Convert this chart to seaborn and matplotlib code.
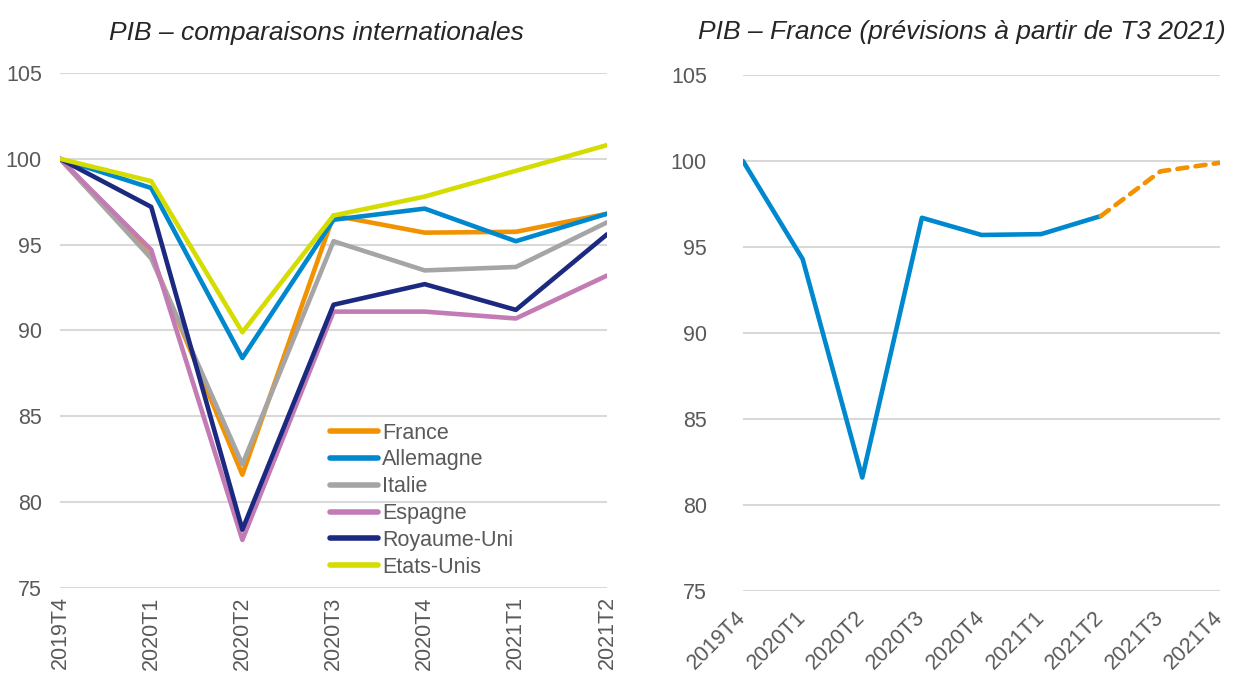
import pandas as pd
import matplotlib
matplotlib.use('Agg')
import matplotlib.pyplot as plt
import seaborn as sns

# trimestres
quarters = ['2019T4', '2020T1', '2020T2', '2020T3', '2020T4', '2021T1', '2021T2']
quarters_fr = quarters + ['2021T3', '2021T4']

# PIB, base 100 au T4 2019
france = [100, 94.3, 81.6, 96.7, 95.7, 95.75, 96.8]
allemagne = [100, 98.3, 88.4, 96.45, 97.1, 95.2, 96.8]
italie = [100, 94.2, 82.2, 95.2, 93.5, 93.7, 96.3]
espagne = [100, 94.7, 77.8, 91.1, 91.1, 90.7, 93.2]
royaume_uni = [100, 97.2, 78.4, 91.5, 92.7, 91.2, 95.6]
etats_unis = [100, 98.7, 89.9, 96.7, 97.8, 99.3, 100.8]

# France : prévisions à partir de T3 2021
france_prev = [96.8, 99.4, 99.9]

countries = ['France', 'Allemagne', 'Italie', 'Espagne', 'Royaume-Uni', 'Etats-Unis']
colors = ['#F39200', '#0088CE', '#A5A5A5', '#C27BB4', '#1B2A80', '#D4DC00']

sns.set_style('white')
plt.rcParams['font.family'] = ['Liberation Sans', 'DejaVu Sans']

GREY = '#595959'
GRID = '#D9D9D9'
LW = 3.3

rows = []
for name, vals in zip(countries, [france, allemagne, italie, espagne, royaume_uni, etats_unis]):
    for q, v in zip(quarters, vals):
        rows.append({'trimestre': q, 'pib': v, 'pays': name})
data = pd.DataFrame(rows)

fig = plt.figure(figsize=(12.33, 6.74), dpi=100)
ax1 = fig.add_axes([0.0487, 0.1276, 0.4436, 0.7641])
ax2 = fig.add_axes([0.6026, 0.1231, 0.3869, 0.7656])

# graphique de gauche
sns.lineplot(data=data, x='trimestre', y='pib', hue='pays', hue_order=countries,
             palette=colors, sort=False, linewidth=LW, ax=ax1)
ax1.set_xlim(0, len(quarters) - 1)
ax1.set_xticks(range(len(quarters)))
ax1.set_xticklabels(quarters, rotation=90, fontsize=15.5, color=GREY)
ax1.tick_params(axis='x', length=0, pad=6)
ax1.tick_params(axis='y', pad=13)
leg = ax1.legend(loc='lower left', bbox_to_anchor=(0.494, 0.02), frameon=False,
                 fontsize=15.5, handlelength=2.2, handletextpad=0.2,
                 labelspacing=0.27, borderaxespad=0, borderpad=0)
for t in leg.get_texts():
    t.set_color(GREY)
for h in leg.get_lines():
    h.set_linewidth(4)
ax1.set_title('PIB – comparaisons internationales', fontsize=19, style='italic',
              pad=24, x=0.468)

# graphique de droite
df_fr = pd.DataFrame({'trimestre': quarters, 'pib': france})
df_prev = pd.DataFrame({'trimestre': quarters_fr[6:], 'pib': france_prev})
ax2.set_xlim(-0.5, len(quarters_fr) - 0.5)
sns.lineplot(data=df_fr, x='trimestre', y='pib', color='#0088CE', linewidth=LW,
             sort=False, ax=ax2)
sns.lineplot(data=df_prev, x='trimestre', y='pib', color='#F39200', linewidth=LW,
             linestyle=(0, (2.2, 1.8)), dash_capstyle='round', sort=False, ax=ax2)
ax2.set_xticks(range(len(quarters_fr)))
ax2.set_xticklabels(quarters_fr, rotation=45, ha='right', va='center',
                    rotation_mode='anchor', fontsize=15.5, color=GREY)
ax2.set_xlim(0, len(quarters_fr) - 1)
ax2.tick_params(axis='x', length=0, pad=17)
ax2.tick_params(axis='y', pad=26)
ax2.set_title('PIB – France (prévisions à partir de T3 2021)', fontsize=19,
              style='italic', pad=26, x=0.459)

for ax in (ax1, ax2):
    ax.set_ylim(75, 105)
    ax.set_yticks(range(75, 106, 5))
    ax.tick_params(axis='y', labelsize=15.5, labelcolor=GREY, length=0)
    ax.yaxis.grid(True, color=GRID, linewidth=1.5)
    ax.set_axisbelow(True)
    ax.set_xlabel('')
    ax.set_ylabel('')
    sns.despine(ax=ax, left=True, bottom=True)

plt.savefig('out.png', dpi=100)
plt.close()
